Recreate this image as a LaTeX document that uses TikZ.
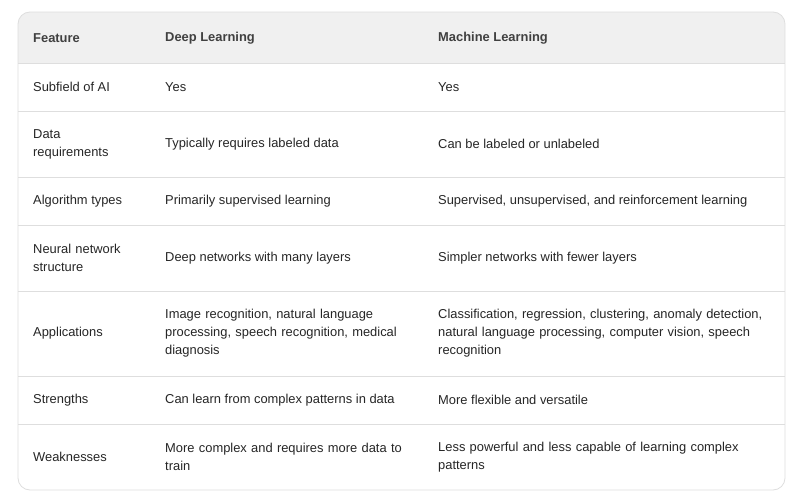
\documentclass[tikz,border=0pt]{standalone}
\usepackage{fontspec}
\setmainfont{Liberation Sans}
\begin{document}
\begin{tikzpicture}[x=1pt,y=-1pt,
 cell/.style={anchor=west,inner sep=0pt,align=left,font=\fontsize{12.9}{18}\selectfont,text=black!85},
 hcell/.style={cell,font=\fontsize{12.9}{18}\selectfont\bfseries,text=black!75},
 rule/.style={draw=black!13,line width=0.8pt}]
\useasboundingbox (0,0) rectangle (800,500);
\fill[white] (0,0) rectangle (800,500);
\begin{scope}
\clip[rounded corners=12pt] (18,12) rectangle (785,490);
\fill[black!6] (18,12) rectangle (785,63);
\end{scope}
\draw[rule,rounded corners=12pt] (18,12) rectangle (785,490);
\foreach \y in {63,111,177,225,291,376,424} \draw[rule] (18,\y) -- (785,\y);
\node[hcell] (h1) at (33,38) {Feature};
\node[hcell] (h2) at (165,38) {Deep Learning};
\node[hcell] (h3) at (438,38) {Machine Learning};
\node[cell] (a1) at (33,87) {Subfield of AI};
\node[cell] (a2) at (165,87) {Yes};
\node[cell] (a3) at (438,87) {Yes};
\node[cell,text width=120pt] (b1) at (33,144) {Data\\requirements};
\node[cell] (b2) at (165,144) {Typically requires labeled data};
\node[cell] (b3) at (438,144) {Can be labeled or unlabeled};
\node[cell] (c1) at (33,201) {Algorithm types};
\node[cell] (c2) at (165,201) {Primarily supervised learning};
\node[cell] (c3) at (438,201) {Supervised, unsupervised, and reinforcement learning};
\node[cell,text width=120pt] (d1) at (33,258) {Neural network\\structure};
\node[cell] (d2) at (165,258) {Deep networks with many layers};
\node[cell] (d3) at (438,258) {Simpler networks with fewer layers};
\node[cell] (e1) at (33,333.5) {Applications};
\node[cell,text width=260pt] (e2) at (165,333.5) {Image recognition, natural language\\processing, speech recognition, medical\\diagnosis};
\node[cell,text width=340pt] (e3) at (438,333.5) {Classification, regression, clustering, anomaly detection,\\natural language processing, computer vision, speech\\recognition};
\node[cell] (f1) at (33,400) {Strengths};
\node[cell] (f2) at (165,400) {Can learn from complex patterns in data};
\node[cell] (f3) at (438,400) {More flexible and versatile};
\node[cell] (g1) at (33,457) {Weaknesses};
\node[cell,text width=260pt] (g2) at (165,457) {More complex and requires more data to\\train};
\node[cell,text width=340pt] (g3) at (438,457) {Less powerful and less capable of learning complex\\patterns};
\end{tikzpicture}
\end{document}
